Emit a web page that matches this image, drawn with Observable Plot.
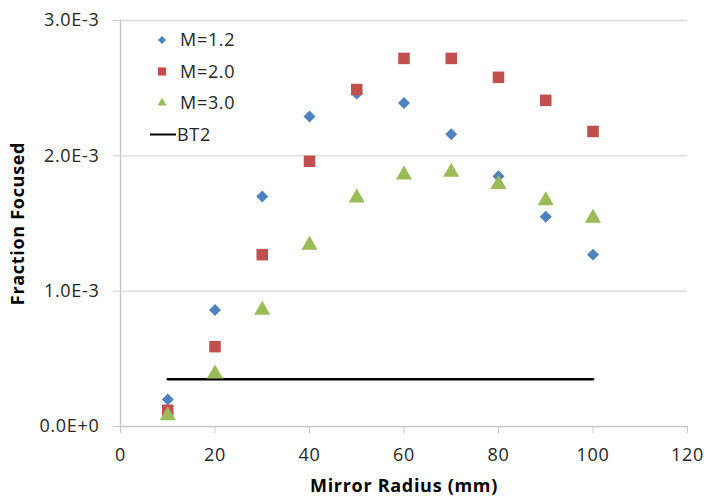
<!DOCTYPE html>
<html><head><meta charset="utf-8">
<script src="https://cdn.jsdelivr.net/npm/d3@7"></script>
<script src="https://cdn.jsdelivr.net/npm/@observablehq/plot@0.6"></script>
<style>
body{margin:0;background:#fff;}
#wrap{position:relative;width:707px;height:497px;}
#legend{position:absolute;left:0;top:0;}
</style></head><body><div id="wrap"></div>
<script>
// Data (fraction focused values in units of 1E-3)
const radius = [10, 20, 30, 40, 50, 60, 70, 80, 90, 100];
const m12 = [0.20, 0.86, 1.70, 2.29, 2.46, 2.39, 2.16, 1.85, 1.55, 1.27];
const m20 = [0.12, 0.59, 1.27, 1.96, 2.49, 2.72, 2.72, 2.58, 2.41, 2.18];
const m30 = [0.08, 0.39, 0.86, 1.34, 1.69, 1.86, 1.88, 1.79, 1.67, 1.54];
const bt2X = [10, 100];
const bt2Y = [0.35, 0.35];
const seriesNames = ["M=1.2", "M=2.0", "M=3.0", "BT2"];
const seriesColors = ["#4F81BD", "#C0504D", "#9BBB59", "#000000"];
const xTicks = [0, 20, 40, 60, 80, 100, 120];
const yTicks = [0, 0.001, 0.002, 0.003];
const yTickLabels = ["0.0E+0", "1.0E-3", "2.0E-3", "3.0E-3"];
const xTitle = "Mirror Radius (mm)";
const yTitle = "Fraction Focused";

const toRows = (vals) => radius.map((r, i) => ({r, v: vals[i] * 1e-3}));
const d12 = toRows(m12), d20 = toRows(m20), d30 = toRows(m30);
const dBt2 = bt2X.map((r, i) => ({r, v: bt2Y[i] * 1e-3}));

const FONT = "'Open Sans', sans-serif";
const chart = Plot.plot({
  width: 707, height: 497,
  marginLeft: 120, marginRight: 20, marginTop: 20, marginBottom: 71,
  style: {fontFamily: FONT, fontSize: "18px", color: "#262626", background: "#fff", letterSpacing: "0.7px"},
  x: {domain: [0, 120]},
  y: {domain: [0, 0.003]},
  marks: [
    Plot.gridY(yTicks.slice(1), {stroke: "#d9d9d9", strokeOpacity: 1, strokeWidth: 1.4}),
    Plot.ruleX([0], {stroke: "#c8c8c8", strokeWidth: 1.4}),
    Plot.ruleY([0], {stroke: "#c8c8c8", strokeWidth: 1.4}),
    Plot.axisY({ticks: yTicks, tickSize: 7, tickPadding: 14, stroke: "#c8c8c8", fill: "#262626",
      tickFormat: (d) => yTickLabels[yTicks.indexOf(d)], label: null}),
    Plot.axisX({ticks: xTicks, tickSize: 7, tickPadding: 15, stroke: "#c8c8c8", fill: "#262626", label: null}),
    Plot.line(dBt2, {x: "r", y: "v", stroke: seriesColors[3], strokeWidth: 2.5}),
    Plot.dot(d12, {x: "r", y: "v", symbol: "diamond2", r: 5.4, fill: seriesColors[0], stroke: "none"}),
    Plot.dot(d20, {x: "r", y: "v", symbol: "square", r: 6.5, fill: seriesColors[1], stroke: "none"}),
    Plot.dot(d30, {x: "r", y: "v", symbol: "triangle", r: 6.0, fill: seriesColors[2], stroke: "none"}),
    Plot.text([xTitle], {frameAnchor: "bottom", dy: 60, fontWeight: "bold", fontSize: 18, fill: "#000", lineAnchor: "middle"}),
    Plot.text([yTitle], {frameAnchor: "left", dx: -102, rotate: -90, fontWeight: "bold", fontSize: 18, fill: "#000", lineAnchor: "middle", textAnchor: "middle"})
  ]
});
const wrap = document.getElementById("wrap");
wrap.appendChild(chart);

// Legend overlay
const leg = d3.select(wrap).append("svg").attr("id", "legend").attr("width", 260).attr("height", 160)
  .style("font-family", FONT).style("font-size", "18px").style("letter-spacing", "0.7px");
const symbols = [d3.symbolDiamond2, d3.symbolSquare, d3.symbolTriangle2];
const symSizes = [42, 68, 58];
seriesNames.forEach((name, i) => {
  const cy = 40 + i * 31.5;
  const g = leg.append("g").attr("transform", `translate(162,${cy})`);
  if (i < 3) {
    g.append("path").attr("d", d3.symbol(symbols[i], symSizes[i])()).attr("fill", seriesColors[i]);
    leg.append("text").attr("x", 180).attr("y", cy).attr("dy", "0.35em").attr("fill", "#262626").text(name);
  } else {
    g.append("line").attr("x1", -12).attr("x2", 14).attr("stroke", "#000").attr("stroke-width", 2);
    leg.append("text").attr("x", 177).attr("y", cy).attr("dy", "0.35em").attr("fill", "#262626").text(name);
  }
});
</script></body></html>
